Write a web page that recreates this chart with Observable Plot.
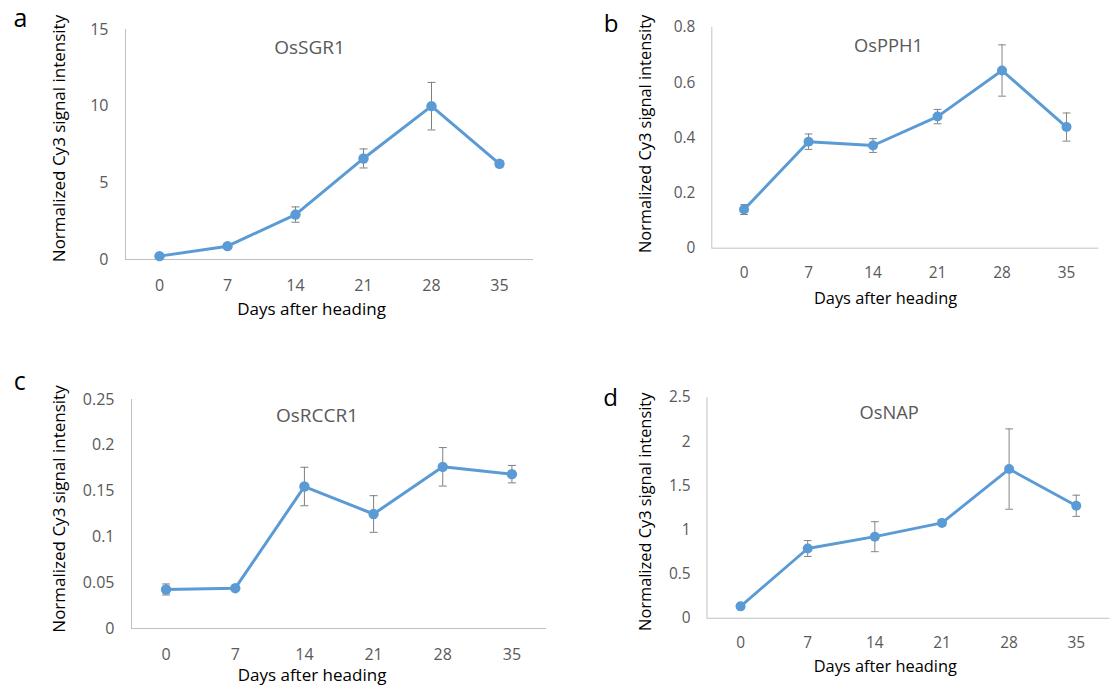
<!DOCTYPE html>
<html><head><meta charset="utf-8">
<script src="https://cdn.jsdelivr.net/npm/d3@7"></script>
<script src="https://cdn.jsdelivr.net/npm/@observablehq/plot@0.6"></script>
<style>
html,body{margin:0;padding:0;background:#fff;overflow:hidden;}
#chart{position:relative;width:1119px;height:693px;overflow:hidden;background:#fff;}
.panel{position:absolute;}
.panel svg{overflow:visible;}
</style></head><body><div id="chart"></div>
<script>
// ---- data ----
const days = [0, 7, 14, 21, 28, 35];
const xTitle = "Days after heading";
const yTitle = "Normalized Cy3 signal intensity";
const letters = ["a", "b", "c", "d"];
const genes = ["OsSGR1", "OsPPH1", "OsRCCR1", "OsNAP"];
const sgr1Mean = [0.22, 0.87, 2.93, 6.59, 10.0, 6.24];
const sgr1Err = [0.1, 0.15, 0.5, 0.62, 1.55, 0.2];
const pph1Mean = [0.140, 0.386, 0.372, 0.477, 0.644, 0.439];
const pph1Err = [0.018, 0.028, 0.025, 0.026, 0.093, 0.051];
const rccr1Mean = [0.0426, 0.044, 0.155, 0.125, 0.1765, 0.1685];
const rccr1Err = [0.006, 0.002, 0.021, 0.020, 0.021, 0.0095];
const napMean = [0.135, 0.79, 0.924, 1.08, 1.69, 1.274];
const napErr = [0.02, 0.09, 0.17, 0.03, 0.455, 0.12];
const sgr1Ticks = [0, 5, 10, 15];
const pph1Ticks = [0, 0.2, 0.4, 0.6, 0.8];
const rccr1Ticks = [0, 0.05, 0.1, 0.15, 0.2, 0.25];
const napTicks = [0, 0.5, 1, 1.5, 2, 2.5];

// ---- styles / layout ----
const FONT = "'Open Sans', 'DejaVu Sans', sans-serif";
const BLUE = "#5b9bd5";
const AXIS = "#bfbfbf";
const ERR = "#7f7f7f";
const GRAY = "#595959";
const capSymbol = {draw(context) { context.moveTo(-4, 0); context.lineTo(4, 0); }};

const layouts = [
  {left: 0, top: 0, width: 580, height: 346, mT: 29, mR: 47, mB: 87, mL: 125,
   title: [-20, 18], xt: [-18, 50], yt: [-66, -6], lt: [-105, -10.3]},
  {left: 560, top: 0, width: 580, height: 346, mT: 28, mR: 21.5, mB: 89, mL: 157,
   title: [-17.5, 19], xt: [-20.5, 52], yt: [-69, -4], lt: [-104.5, -3]},
  {left: 0, top: 346, width: 580, height: 347, mT: 53, mR: 34, mB: 65, mL: 131,
   title: [-22, 16], xt: [-27, 47], yt: [-72, -5], lt: [-111.7, -17.3]},
  {left: 560, top: 346, width: 580, height: 347, mT: 53, mR: 10, mB: 65, mL: 152,
   title: [-20, 16], xt: [-24, 50], yt: [-64, 4], lt: [-100, 0.4]}
];
const series = [
  [sgr1Mean, sgr1Err, sgr1Ticks],
  [pph1Mean, pph1Err, pph1Ticks],
  [rccr1Mean, rccr1Err, rccr1Ticks],
  [napMean, napErr, napTicks]
];

const chart = document.getElementById("chart");
const step = days[1] - days[0];
const x0 = days[0] - step / 2;
const x1 = days[days.length - 1] + step / 2;
const txt = {text: d => d, textAnchor: "middle", lineAnchor: "middle"};

series.forEach(([mean, err, ticks], k) => {
  const L = layouts[k];
  const rows = days.map((d, i) => ({day: d, mean: mean[i], lo: mean[i] - err[i], hi: mean[i] + err[i]}));
  const plot = Plot.plot({
    width: L.width, height: L.height,
    marginTop: L.mT, marginRight: L.mR, marginBottom: L.mB, marginLeft: L.mL,
    style: {fontFamily: FONT, fontSize: "16px", color: GRAY, background: "transparent", overflow: "visible"},
    x: {domain: [x0, x1]},
    y: {domain: [0, ticks[ticks.length - 1]]},
    marks: [
      Plot.ruleY([0], {stroke: AXIS, strokeWidth: 1}),
      Plot.ruleX([x0], {stroke: AXIS, strokeWidth: 1}),
      Plot.axisX(days, {tickSize: 0, tickPadding: 20, label: null, color: GRAY, tickFormat: d => String(d)}),
      Plot.axisY(ticks, {tickSize: 0, tickPadding: 17, label: null, color: GRAY, tickFormat: d => String(d)}),
      Plot.ruleX(rows, {x: "day", y1: "lo", y2: "hi", stroke: ERR, strokeWidth: 1}),
      Plot.dot(rows, {x: "day", y: "lo", symbol: capSymbol, stroke: ERR, fill: "none", r: 4, strokeWidth: 1}),
      Plot.dot(rows, {x: "day", y: "hi", symbol: capSymbol, stroke: ERR, fill: "none", r: 4, strokeWidth: 1}),
      Plot.line(rows, {x: "day", y: "mean", stroke: BLUE, strokeWidth: 3}),
      Plot.dot(rows, {x: "day", y: "mean", fill: BLUE, r: 5.2}),
      Plot.text([genes[k]], {...txt, frameAnchor: "top", dx: L.title[0], dy: L.title[1], fontSize: 19, fill: GRAY}),
      Plot.text([xTitle], {...txt, frameAnchor: "bottom", dx: L.xt[0], dy: L.xt[1], fontSize: 17, fill: "#000"}),
      Plot.text([yTitle], {...txt, frameAnchor: "left", rotate: -90, dx: L.yt[0], dy: L.yt[1], fontSize: 17, fill: "#000"}),
      Plot.text([letters[k]], {...txt, frameAnchor: "top-left", dx: L.lt[0], dy: L.lt[1], fontSize: 25, fill: "#000"})
    ]
  });
  const div = document.createElement("div");
  div.className = "panel";
  div.style.left = L.left + "px";
  div.style.top = L.top + "px";
  div.appendChild(plot);
  chart.appendChild(div);
});
</script></body></html>
